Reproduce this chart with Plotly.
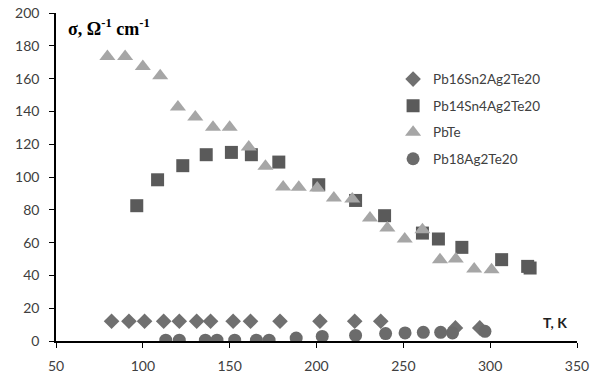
import plotly.graph_objects as go

# Pb16Sn2Ag2Te20 (diamonds)
t_pb16 = [82, 92, 101, 112, 121, 131, 139, 152, 162, 179, 202, 222, 237, 280, 294]
s_pb16 = [12, 12, 12, 12, 12, 12, 12, 12, 12, 12, 12, 12, 12, 8, 8]

# Pb14Sn4Ag2Te20 (squares)
t_pb14 = [96.5, 108.5, 123, 136.5, 151, 162.5, 178.3, 201.3, 222.5, 239.2, 261, 270.2, 283.7, 306.6, 321.6, 323]
s_pb14 = [82.5, 98.3, 106.9, 113.6, 115, 113.6, 109.1, 95.3, 85.7, 76.4, 65.8, 62.2, 57.1, 49.6, 45.5, 44.5]

# PbTe (triangles)
t_pbte = [79.6, 89.8, 100, 110, 120.2, 130.2, 140.4, 150, 161, 170.6, 180.8, 189.8, 200.4, 210, 220.6, 230.8, 240.8, 250.8, 261, 271.1, 280.2, 290.8, 300.8]
s_pbte = [173.5, 173.5, 167.4, 161.8, 142.7, 136.6, 130.3, 130.3, 118.3, 106.5, 93.9, 93.7, 93.3, 87.2, 86.6, 75, 68.9, 62.2, 67.9, 49.6, 50, 43.9, 43.5]

# Pb18Ag2Te20 (circles)
t_pb18 = [113.2, 121, 136, 142.7, 152.9, 165.4, 172.7, 188.3, 203.3, 222.5, 239.8, 251, 261.5, 271.5, 278.3, 297]
s_pb18 = [0.5, 0.5, 0.5, 0.5, 0.5, 0.5, 0.5, 1.8, 2.8, 3.4, 4.5, 4.9, 5.3, 5.3, 4.9, 5.9]

x_ticks = [50, 100, 150, 200, 250, 300, 350]
y_ticks = [0, 20, 40, 60, 80, 100, 120, 140, 160, 180, 200]

fig = go.Figure()
fig.add_trace(go.Scatter(x=t_pb16, y=s_pb16, mode="markers", name="Pb16Sn2Ag2Te20",
                         legendgroup="a",
                         marker=dict(symbol="diamond", size=12, color="#707070")))
fig.add_trace(go.Scatter(x=t_pb14, y=s_pb14, mode="markers", name="Pb14Sn4Ag2Te20",
                         legendgroup="b",
                         marker=dict(symbol="square", size=13, color="#5a5a5a")))
fig.add_trace(go.Scatter(x=t_pbte, y=s_pbte, mode="markers", name="PbTe",
                         legendgroup="c",
                         marker=dict(symbol="triangle-up", size=14, color="#a6a6a6")))
fig.add_trace(go.Scatter(x=t_pb18, y=s_pb18, mode="markers", name="Pb18Ag2Te20",
                         legendgroup="d",
                         marker=dict(symbol="circle", size=13, color="#6b6b6b")))

axis_font = dict(family="Lato, Liberation Sans, sans-serif", size=14, color="#404040")

fig.update_layout(
    width=598, height=376,
    margin=dict(l=56, r=21, t=13, b=35, autoexpand=False),
    plot_bgcolor="white", paper_bgcolor="white",
    showlegend=True,
    legend=dict(x=0.647, y=0.845, xanchor="left", yanchor="top",
                font=dict(family="Lato, Liberation Sans, sans-serif", size=13.5, color="#404040"),
                traceorder="grouped", tracegroupgap=6, bgcolor="rgba(0,0,0,0)"),
    xaxis=dict(range=[50, 350], tickvals=x_ticks, showgrid=False, zeroline=False,
               showline=True, linecolor="black", linewidth=1.5, automargin=False,
               ticks="outside", ticklen=5, tickcolor="black", tickfont=axis_font,
               ticklabelstandoff=6),
    yaxis=dict(range=[0, 200], tickvals=y_ticks, showgrid=False, zeroline=False,
               showline=True, linecolor="black", linewidth=1.5, automargin=False,
               ticks="outside", ticklen=5, tickcolor="black", tickfont=axis_font,
               ticklabelstandoff=7),
    annotations=[
        dict(text="<b>σ, Ω<sup>-1</sup> cm<sup>-1</sup></b>", xref="paper", yref="paper",
             x=0.02, y=0.955, xanchor="left", yanchor="middle", showarrow=False,
             font=dict(family="Liberation Serif, Times New Roman, serif", size=18, color="black")),
        dict(text="<b>T, K</b>", xref="paper", yref="paper",
             x=0.985, y=0.056, xanchor="right", yanchor="middle", showarrow=False,
             font=dict(family="Lato, Liberation Sans, sans-serif", size=14, color="#202020")),
    ],
)

fig.write_html("out.html")
